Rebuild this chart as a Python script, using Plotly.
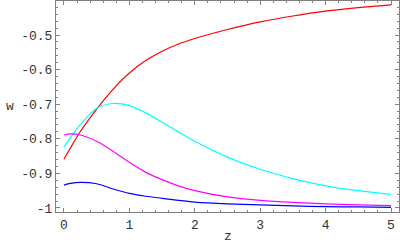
import plotly.graph_objects as go

z = [0, 0.1, 0.25, 0.5, 0.75, 1.0, 1.25, 1.5, 1.75, 2.0, 2.5, 3.0, 3.5, 4.0, 4.5, 5.0]

w_red = [-0.859, -0.826, -0.779, -0.714, -0.657, -0.610, -0.574, -0.547, -0.526, -0.510,
         -0.484, -0.462, -0.445, -0.431, -0.421, -0.413]
w_cyan = [-0.824, -0.796, -0.759, -0.712, -0.698, -0.704, -0.725, -0.752, -0.780, -0.807,
          -0.853, -0.888, -0.915, -0.936, -0.950, -0.961]
w_magenta = [-0.789, -0.786, -0.789, -0.807, -0.836, -0.868, -0.897, -0.918, -0.936, -0.950,
             -0.968, -0.978, -0.984, -0.988, -0.991, -0.993]
w_blue = [-0.934, -0.929, -0.926, -0.930, -0.945, -0.958, -0.966, -0.972, -0.978, -0.983,
          -0.988, -0.991, -0.994, -0.996, -0.997, -0.998]

x_ticks = [0, 1, 2, 3, 4, 5]
x_ticklabels = ["0", "1", "2", "3", "4", "5"]
y_ticks = [-1.0, -0.9, -0.8, -0.7, -0.6, -0.5]
y_ticklabels = ["-1", "-0.9", "-0.8", "-0.7", "-0.6", "-0.5"]

series = [
    (w_red, "#ff0000"),
    (w_cyan, "#00ffff"),
    (w_magenta, "#ff00ff"),
    (w_blue, "#0000ff"),
]

fig = go.Figure()
for w, c in series:
    fig.add_trace(go.Scatter(x=z, y=w, mode="lines", line=dict(color=c, width=1.2, shape="spline", smoothing=0.8),
                             showlegend=False, hoverinfo="skip"))

frame = "#808080"
font = dict(family="Liberation Mono", size=13, color="#333333")
fig.update_layout(
    width=400, height=247,
    margin=dict(l=56, r=1, t=1, b=35),
    paper_bgcolor="white", plot_bgcolor="white",
    font=font,
    xaxis=dict(range=[-0.122, 5.122], tickvals=x_ticks, ticktext=x_ticklabels,
               showgrid=False, zeroline=False, showline=True, linecolor=frame, linewidth=1,
               mirror="ticks", ticks="inside", ticklen=4, tickcolor=frame, tickwidth=1,
               minor=dict(dtick=0.2, tick0=0, ticks="inside", ticklen=2, tickcolor=frame, showgrid=False),
               tickfont=font, ticklabelstandoff=0),
    yaxis=dict(range=[-1.0116, -0.4017], tickvals=y_ticks, ticktext=y_ticklabels,
               showgrid=False, zeroline=False, showline=True, linecolor=frame, linewidth=1,
               mirror="ticks", ticks="inside", ticklen=4, tickcolor=frame, tickwidth=1,
               minor=dict(dtick=0.02, tick0=0, ticks="inside", ticklen=2, tickcolor=frame, showgrid=False),
               tickfont=font, ticklabelstandoff=0),
    annotations=[
        dict(text="w", xref="paper", yref="paper", x=-0.134, y=0.5, showarrow=False,
             xanchor="center", yanchor="middle", font=font),
        dict(text="z", xref="paper", yref="paper", x=0.5, y=-0.118, showarrow=False,
             xanchor="center", yanchor="middle", font=font),
    ],
)

fig.write_html("out.html", config={"displayModeBar": False},
               post_script="document.body.style.margin='0';document.body.style.overflow='hidden';")
